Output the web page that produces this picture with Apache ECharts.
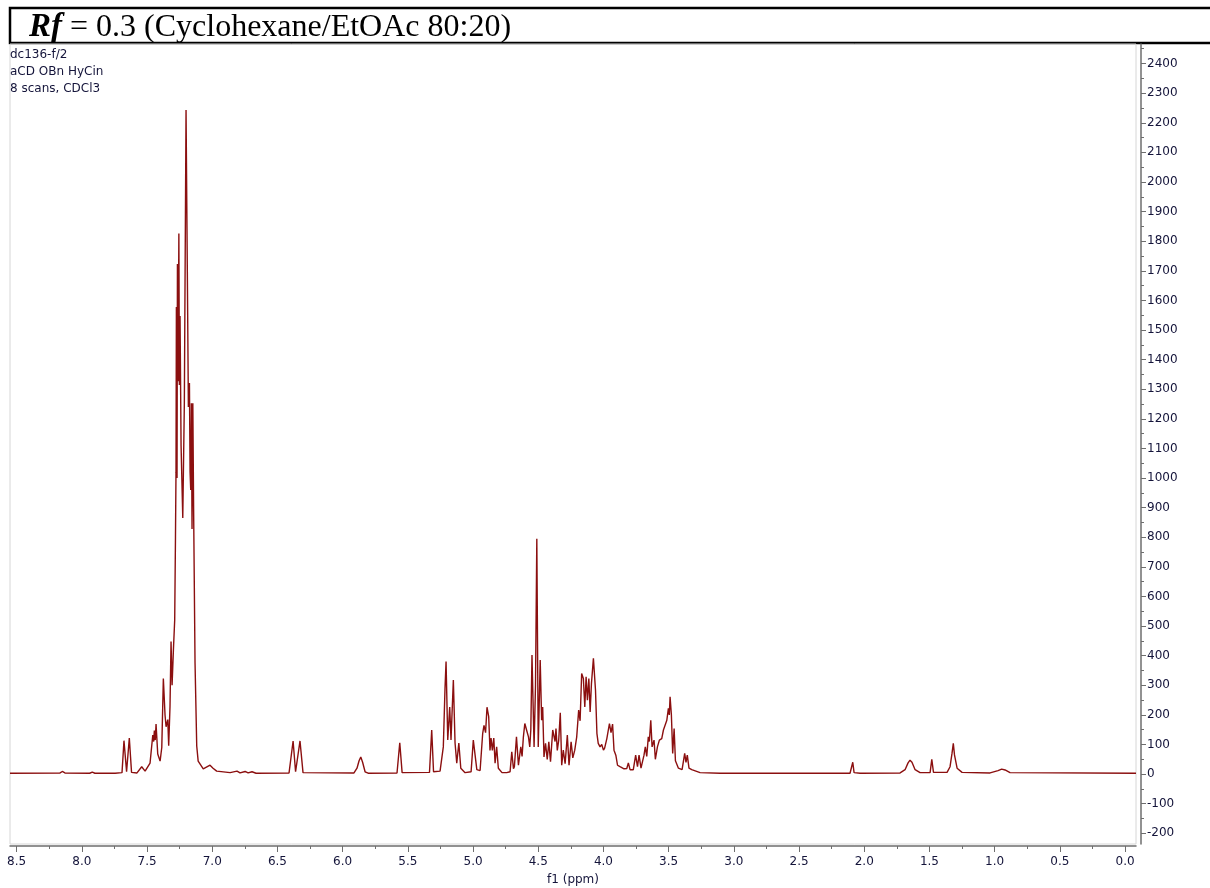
<!DOCTYPE html>
<html>
<head>
<meta charset="utf-8">
<script src="https://cdn.jsdelivr.net/npm/echarts@6/dist/echarts.min.js"></script>
<style>html,body{margin:0;padding:0;background:#fff}#c{width:1210px;height:888px}</style>
</head>
<body>
<div id="c"></div>
<script>
// Chemical shift (ppm) and intensity
const ppm = [
  8.551, 8.167, 8.150, 8.130, 7.940, 7.920, 7.900, 7.745,
  7.692, 7.677, 7.657, 7.636, 7.619, 7.577, 7.541, 7.515, 7.477,
  7.456, 7.449, 7.444, 7.437, 7.431, 7.418, 7.400, 7.387, 7.375,
  7.362, 7.354, 7.341, 7.334, 7.324, 7.316, 7.308, 7.298, 7.288,
  7.282, 7.278, 7.275, 7.270, 7.267, 7.262, 7.256, 7.252, 7.247,
  7.239, 7.226, 7.214, 7.201, 7.191, 7.183, 7.175, 7.170, 7.165,
  7.160, 7.155, 7.149, 7.143, 7.132, 7.119, 7.108, 7.069, 7.017,
  6.994, 6.966, 6.863, 6.810, 6.787, 6.748, 6.725, 6.695, 6.664,
  6.411, 6.380, 6.361, 6.327, 6.304,
  5.913, 5.890, 5.874, 5.861, 5.847, 5.828, 5.805,
  5.583, 5.562, 5.544,
  5.334, 5.317, 5.303,
  5.253, 5.228, 5.215, 5.207, 5.194, 5.179, 5.169, 5.151, 5.138,
  5.125, 5.109, 5.094, 5.061,
  5.015, 4.998, 4.988, 4.971, 4.946,
  4.926, 4.916, 4.904, 4.893, 4.880, 4.870, 4.862, 4.852, 4.841,
  4.831, 4.819, 4.806, 4.778, 4.742,
  4.716, 4.703, 4.690, 4.683, 4.667, 4.652, 4.634, 4.624, 4.614,
  4.603, 4.595, 4.587, 4.575, 4.565, 4.557, 4.548, 4.532, 4.521,
  4.511, 4.500, 4.485, 4.474, 4.466, 4.456, 4.444, 4.431, 4.419,
  4.406, 4.389, 4.379, 4.371, 4.364, 4.354, 4.343, 4.331, 4.320,
  4.308, 4.294, 4.277, 4.264, 4.248, 4.235, 4.220, 4.205, 4.190,
  4.179, 4.167, 4.154, 4.143, 4.133, 4.123, 4.112, 4.102, 4.092,
  4.077, 4.061, 4.050, 4.040, 4.026, 4.013, 4.000, 3.991, 3.974,
  3.954, 3.942, 3.930, 3.919, 3.905, 3.892, 3.873, 3.842, 3.821,
  3.809, 3.796, 3.771, 3.753, 3.739, 3.727, 3.712, 3.700, 3.689,
  3.679, 3.668, 3.656, 3.648, 3.637, 3.627, 3.612, 3.602, 3.586,
  3.571, 3.553, 3.540, 3.527, 3.514, 3.502, 3.495, 3.489, 3.479,
  3.469, 3.458, 3.448, 3.425, 3.397, 3.377, 3.367, 3.357, 3.344,
  3.323, 3.259, 3.106,
  2.109, 2.097, 2.088, 2.078, 2.032,
  1.725, 1.687, 1.664, 1.649, 1.634, 1.610, 1.572,
  1.495, 1.482, 1.469,
  1.365, 1.342, 1.327, 1.317, 1.308, 1.288, 1.250,
  1.035, 0.974, 0.946, 0.920, 0.882,
  -0.084
];
const intensity = [
  3, 4, 9, 4, 3, 7, 3, 3,
  5, 113, 8, 122, 6, 4, 25, 10, 37,
  132, 110, 147, 115, 169, 68, 44, 90, 323,
  199, 160, 184, 96, 228, 448, 300, 418, 520,
  800, 1020, 1578, 1000, 1723, 1327, 1826, 1314, 1547,
  1108, 865, 1253, 2243, 1694, 1240, 1321, 1020, 960,
  1253, 828, 1253, 900, 375, 95, 44, 18, 30,
  20, 10, 5, 10, 4, 9, 4, 8, 3,
  4, 112, 8, 112, 5,
  4, 20, 45, 58, 40, 8, 3,
  4, 106, 5,
  6, 149, 8,
  10, 92, 290, 380, 115, 227, 115, 318, 105,
  37, 105, 20, 5,
  8, 115, 115, 15, 12,
  138, 165, 140, 226, 194, 80, 122, 80, 122,
  37, 92, 20, 5, 5,
  8, 75, 18, 25, 126, 30, 92, 60, 126,
  171, 177, 145, 126, 92, 150, 402, 92, 300,
  795, 92, 385, 182, 227, 58, 104, 50, 109,
  42, 149, 154, 110, 154, 80, 115, 207, 30,
  81, 35, 132, 30, 109, 55, 81, 126, 216,
  180, 340, 323, 227, 329, 250, 323, 210, 306,
  391, 284, 137, 104, 92, 100, 81, 88, 120,
  171, 140, 169, 81, 64, 30, 25, 18, 19,
  38, 15, 15, 64, 25, 64, 20, 25, 64,
  92, 60, 126, 110, 182, 92, 115, 50, 92,
  115, 120, 149, 155, 182, 222, 200, 261, 200,
  70, 154, 45, 20, 15, 70, 40, 64, 20,
  15, 5, 3,
  3, 5, 40, 5, 3,
  4, 15, 38, 47, 40, 15, 5,
  5, 50, 6,
  6, 25, 70, 104, 65, 20, 6,
  4, 12, 17, 14, 5,
  3
];
const xTickValues = [0, 0.5, 1, 1.5, 2, 2.5, 3, 3.5, 4, 4.5, 5, 5.5, 6, 6.5, 7, 7.5, 8, 8.5];
const xMinorValues = [0.25, 0.75, 1.25, 1.75, 2.25, 2.75, 3.25, 3.75, 4.25, 4.75, 5.25, 5.75, 6.25, 6.75, 7.25, 7.75, 8.25];
const yTickValues = [-200, -100, 0, 100, 200, 300, 400, 500, 600, 700, 800, 900, 1000, 1100, 1200, 1300, 1400, 1500, 1600, 1700, 1800, 1900, 2000, 2100, 2200, 2300, 2400];
const yMinorValues = [-150, -50, 50, 150, 250, 350, 450, 550, 650, 750, 850, 950, 1050, 1150, 1250, 1350, 1450, 1550, 1650, 1750, 1850, 1950, 2050, 2150, 2250, 2350, 2450];
const titleText = '{b|Rf} = 0.3 (Cyclohexane/EtOAc 80:20)';
const infoLines = ['dc136-f/2', 'aCD OBn HyCin', '8 scans, CDCl3'];

const X_MIN = -0.084, X_MAX = 8.551, Y_MIN = -236, Y_MAX = 2466;
const labelColor = '#14143a';
const font = 'DejaVu Sans';

const data = ppm.map((p, i) => [p, intensity[i]]);
const chart = echarts.init(document.getElementById('c'), null, {renderer: 'canvas'});

chart.setOption({
  animation: false,
  backgroundColor: '#fff',
  title: {
    text: titleText,
    left: 24, top: 6,
    textStyle: {
      fontFamily: 'Liberation Serif', fontSize: 32, fontWeight: 'normal', color: '#000',
      rich: { b: { fontFamily: 'Liberation Serif', fontSize: 33, fontWeight: 'bold', fontStyle: 'italic', color: '#000' } }
    }
  },
  graphic: [
    { type: 'rect', z: -1, shape: { x: 10, y: 8, width: 1215, height: 35 }, style: { fill: '#fff', stroke: '#000', lineWidth: 2.5 } },
    { type: 'text', left: 10, top: 46, style: { text: infoLines.join('\n'), font: '12px "DejaVu Sans"', fill: labelColor, lineHeight: 17 } }
  ],
  grid: { left: 10, right: 74, top: 44, bottom: 44, outerBoundsMode: 'none', containLabel: false, show: true, borderColor: '#d6d6d6', borderWidth: 1 },
  xAxis: [
    {
      type: 'value', inverse: true, min: X_MIN, max: X_MAX,
      name: 'f1 (ppm)', nameLocation: 'middle', nameGap: 28,
      nameTextStyle: { fontFamily: font, fontSize: 12, color: labelColor },
      offset: 2,
      axisLine: { show: true, onZero: false, lineStyle: { color: '#6e6e6e', width: 1.5 } },
      axisTick: { show: true, length: 6, customValues: xTickValues, lineStyle: { color: '#6e6e6e' } },
      axisLabel: { customValues: xTickValues, formatter: v => v.toFixed(1), fontFamily: font, fontSize: 12, color: labelColor, margin: 10 },
      splitLine: { show: false }
    },
    {
      type: 'value', inverse: true, min: X_MIN, max: X_MAX, position: 'bottom', offset: 2,
      axisLine: { show: false, onZero: false },
      axisTick: { show: true, length: 3, customValues: xMinorValues, lineStyle: { color: '#6e6e6e' } },
      axisLabel: { show: false, customValues: xMinorValues },
      splitLine: { show: false }
    }
  ],
  yAxis: [
    {
      type: 'value', position: 'right', min: Y_MIN, max: Y_MAX, offset: 5,
      axisLine: { show: true, onZero: false, lineStyle: { color: '#6e6e6e', width: 1.5 } },
      axisTick: { show: true, length: 5, customValues: yTickValues, lineStyle: { color: '#6e6e6e' } },
      axisLabel: { customValues: yTickValues, formatter: v => String(v), fontFamily: font, fontSize: 12, color: labelColor, margin: 6 },
      splitLine: { show: false }
    },
    {
      type: 'value', position: 'right', min: Y_MIN, max: Y_MAX, offset: 5,
      axisLine: { show: false, onZero: false },
      axisTick: { show: true, length: 3, customValues: yMinorValues, lineStyle: { color: '#6e6e6e' } },
      axisLabel: { show: false, customValues: yMinorValues },
      splitLine: { show: false }
    }
  ],
  series: [{
    type: 'line', data: data, xAxisIndex: 0, yAxisIndex: 0,
    showSymbol: false, symbol: 'none', sampling: null,
    lineStyle: { color: '#8b0f0f', width: 1.4 },
    clip: true
  }]
});
</script>
</body>
</html>
